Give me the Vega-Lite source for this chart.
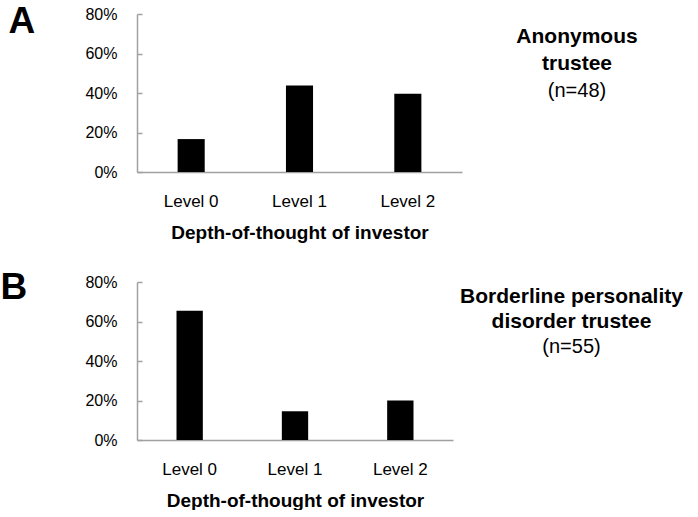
{
  "$schema": "https://vega.github.io/schema/vega-lite/v6.json",
  "padding": {"left": 0, "top": 2, "right": 0, "bottom": 0},
  "columns": 2,
  "spacing": {"row": 110, "column": 15},
  "bounds": "flush",
  "datasets": {
    "anon": [
      {"level": "Level 0", "share": 0.1667},
      {"level": "Level 1", "share": 0.4375},
      {"level": "Level 2", "share": 0.3958}
    ],
    "bpd": [
      {"level": "Level 0", "share": 0.6545},
      {"level": "Level 1", "share": 0.1455},
      {"level": "Level 2", "share": 0.2}
    ],
    "anonText": [
      {"line": 1, "text": "Anonymous", "part": "group"},
      {"line": 2, "text": "trustee", "part": "group"},
      {"line": 3, "text": "(n=48)", "part": "count"}
    ],
    "bpdText": [
      {"line": 1, "text": "Borderline personality", "part": "group"},
      {"line": 2, "text": "disorder trustee", "part": "group"},
      {"line": 3, "text": "(n=55)", "part": "count"}
    ]
  },
  "concat": [
    {
      "width": 325,
      "height": 158,
      "data": {"name": "anon"},
      "mark": {"type": "bar", "color": "#000000"},
      "encoding": {
        "x": {
          "field": "level", "type": "nominal", "sort": null,
          "scale": {"paddingInner": 0.75, "paddingOuter": 0.375},
          "axis": {"title": "Depth-of-thought of investor", "labelAngle": 0, "ticks": false, "labelPadding": 21, "titlePadding": 14}
        },
        "y": {
          "field": "share", "type": "quantitative",
          "scale": {"domain": [0, 0.8], "nice": false},
          "axis": {
            "values": [0, 0.2, 0.4, 0.6, 0.8], "format": ".0%", "grid": false,
            "tickSize": -5, "labelPadding": 25,
            "title": "A", "titleAngle": 0, "titleAlign": "left", "titleBaseline": "alphabetic",
            "titleX": -129, "titleY": 18, "titleFontSize": 37, "titleFontWeight": "bold"
          }
        }
      }
    },
    {
      "width": 200,
      "height": 158,
      "data": {"name": "anonText"},
      "layer": [
        {
          "transform": [{"filter": "datum.part === 'group'"}],
          "mark": {"type": "text", "fontSize": 21, "fontWeight": "bold", "baseline": "alphabetic", "align": "center", "color": "#000000"},
          "encoding": {
            "y": {"field": "line", "type": "quantitative", "scale": {"domain": [-0.06, 5.79], "reverse": true, "nice": false, "zero": false}, "axis": null},
            "text": {"field": "text"}
          }
        },
        {
          "transform": [{"filter": "datum.part === 'count'"}],
          "mark": {"type": "text", "fontSize": 20, "fontWeight": "normal", "baseline": "alphabetic", "align": "center", "color": "#000000"},
          "encoding": {
            "y": {"field": "line", "type": "quantitative", "axis": null},
            "text": {"field": "text"}
          }
        }
      ]
    },
    {
      "width": 316,
      "height": 158,
      "data": {"name": "bpd"},
      "mark": {"type": "bar", "color": "#000000"},
      "encoding": {
        "x": {
          "field": "level", "type": "nominal", "sort": null,
          "scale": {"paddingInner": 0.75, "paddingOuter": 0.375},
          "axis": {"title": "Depth-of-thought of investor", "labelAngle": 0, "ticks": false, "labelPadding": 21, "titlePadding": 14}
        },
        "y": {
          "field": "share", "type": "quantitative",
          "scale": {"domain": [0, 0.8], "nice": false},
          "axis": {
            "values": [0, 0.2, 0.4, 0.6, 0.8], "format": ".0%", "grid": false,
            "tickSize": -5, "labelPadding": 25,
            "title": "B", "titleAngle": 0, "titleAlign": "left", "titleBaseline": "alphabetic",
            "titleX": -137, "titleY": 16, "titleFontSize": 37, "titleFontWeight": "bold"
          }
        }
      }
    },
    {
      "width": 189,
      "height": 158,
      "data": {"name": "bpdText"},
      "layer": [
        {
          "transform": [{"filter": "datum.part === 'group'"}],
          "mark": {"type": "text", "fontSize": 21, "fontWeight": "bold", "baseline": "alphabetic", "align": "center", "color": "#000000"},
          "encoding": {
            "y": {"field": "line", "type": "quantitative", "scale": {"domain": [0.18, 6.43], "reverse": true, "nice": false, "zero": false}, "axis": null},
            "text": {"field": "text"}
          }
        },
        {
          "transform": [{"filter": "datum.part === 'count'"}],
          "mark": {"type": "text", "fontSize": 20, "fontWeight": "normal", "baseline": "alphabetic", "align": "center", "color": "#000000"},
          "encoding": {
            "y": {"field": "line", "type": "quantitative", "axis": null},
            "text": {"field": "text"}
          }
        }
      ]
    }
  ],
  "config": {
    "view": {"stroke": null},
    "font": "Liberation Sans",
    "axis": {
      "domainColor": "#a0a0a0", "domainWidth": 1.5,
      "tickColor": "#a0a0a0", "tickWidth": 1.5,
      "labelColor": "#000000", "labelFont": "Liberation Sans",
      "titleColor": "#000000", "titleFont": "Liberation Sans"
    },
    "axisX": {"labelFontSize": 17, "titleFontSize": 19, "titleFontWeight": "bold"},
    "axisY": {"labelFontSize": 16}
  }
}
